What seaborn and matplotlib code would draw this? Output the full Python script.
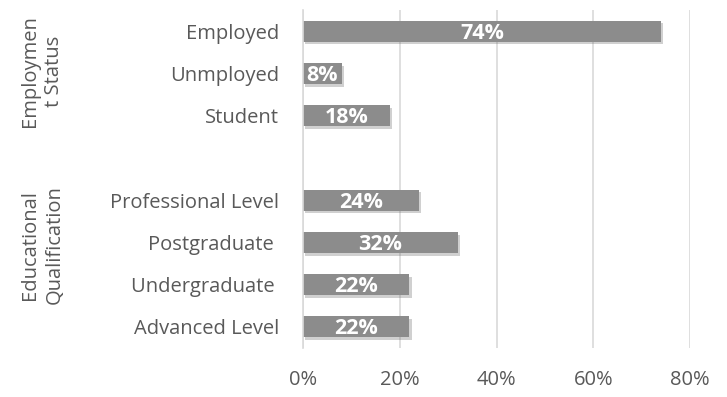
import matplotlib
matplotlib.use("Agg")
import matplotlib.pyplot as plt
import matplotlib.patheffects as pe
import seaborn as sns
import pandas as pd
import numpy as np

categories = ["Employed", "Unmployed", "Student", " ",
              "Professional Level", "Postgraduate ", "Undergraduate ", "Advanced Level"]
values = [0.74, 0.08, 0.18, np.nan, 0.24, 0.32, 0.22, 0.22]
group_labels = ["Employmen\nt Status", "Educational\nQualification"]
xticks = [0, 0.2, 0.4, 0.6, 0.8]
xtick_labels = ["0%", "20%", "40%", "60%", "80%"]

df = pd.DataFrame({"cat": categories, "val": values})

sns.set_theme(style="white")
plt.rcParams["font.family"] = ["Open Sans", "DejaVu Sans"]

fig = plt.figure(figsize=(7.27, 3.97), dpi=100)
ax = fig.add_axes([303/727, 1-348/397, (690-303)/727, (348-10)/397])

sns.barplot(data=df, y="cat", x="val", order=categories, color="#8c8c8c",
            width=0.5, ax=ax, orient="h", saturation=1)

for p in ax.patches:
    p.set_path_effects([pe.SimplePatchShadow(offset=(1.5, -2), shadow_rgbFace="#666666", alpha=0.3),
                        pe.Normal()])
    p.set_edgecolor("none")

for i, v in enumerate(values):
    if np.isnan(v):
        continue
    ax.text(v/2, i - 0.01, f"{int(round(v*100))}%", ha="center", va="center_baseline",
            color="white", fontsize=15.5, fontweight="bold")

ax.set_xlim(0, 0.8)
ax.set_ylim(len(categories)-0.5, -0.5)
ax.set_xticks(xticks)
ax.set_xticklabels(xtick_labels, fontsize=14.5, color="#595959")
ax.tick_params(axis="y", labelsize=14.5, labelcolor="#595959", length=0, pad=17)
ax.tick_params(axis="x", length=0, pad=16)
ax.set_xlabel("")
ax.set_ylabel("")
ax.grid(axis="x", color="#d9d9d9", linewidth=1.2)
ax.set_axisbelow(True)
for s in ["top", "right", "bottom"]:
    ax.spines[s].set_visible(False)
ax.spines["left"].set_color("#d9d9d9")
ax.spines["left"].set_linewidth(1.2)

fig.text(42/727, 1-71/397, group_labels[0], rotation=90, ha="center", va="center",
         fontsize=14.5, color="#595959", linespacing=1.3, multialignment="center")
fig.text(42/727, 1-245/397, group_labels[1], rotation=90, ha="center", va="center",
         fontsize=14.5, color="#595959", linespacing=1.3, multialignment="center")

fig.savefig("out.png", dpi=100)
